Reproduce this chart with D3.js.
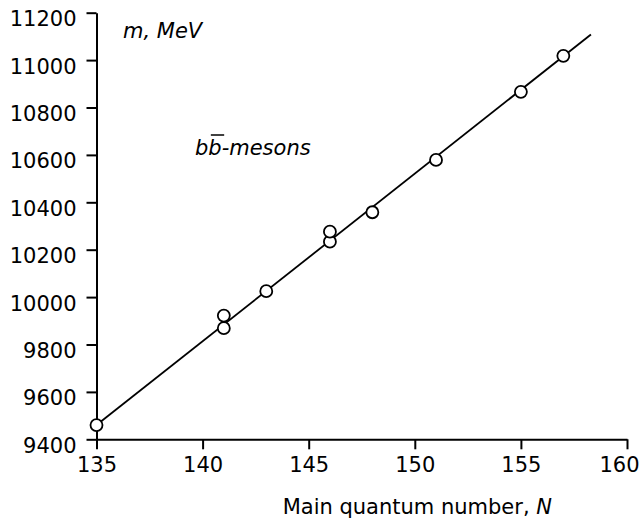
<!DOCTYPE html>
<html>
<head>
<meta charset="utf-8">
<script src="https://cdn.jsdelivr.net/npm/d3@7"></script>
<style>
  html, body { margin: 0; padding: 0; background: #fff; }
  svg { display: block; }
  text { font-family: "DejaVu Sans", Verdana, sans-serif; fill: #000; }
</style>
</head>
<body>
<div id="chart"></div>
<script>
// Data
const quantumN = [135, 141, 141, 143, 146, 146, 148, 151, 155, 157];
const massMeV  = [9460, 9869, 9922, 10025, 10234, 10276, 10358, 10579, 10866, 11018];
const fitLineN = [135, 158.3];
const fitLineM = [9460, 11108];
const xTicks = [135, 140, 145, 150, 155, 160];
const yTicks = [9400, 9600, 9800, 10000, 10200, 10400, 10600, 10800, 11000, 11200];

const W = 643, H = 519;
const FS = 21;
const svg = d3.select("#chart").append("svg").attr("width", W).attr("height", H);

const x = d3.scaleLinear().domain([135, 160]).range([96.5, 627]);
const y = d3.scaleLinear().domain([9400, 11200]).range([439.3, 12.7]);

// X axis
const gx = svg.append("g").attr("transform", `translate(0,${y(9400)})`)
  .call(d3.axisBottom(x).tickValues(xTicks).tickSize(10).tickSizeOuter(0).tickPadding(8).tickFormat(d3.format("d")));
// Y axis
const gy = svg.append("g").attr("transform", `translate(${x(135)},0)`)
  .call(d3.axisLeft(y).tickValues(yTicks).tickSize(10).tickSizeOuter(0).tickPadding(10).tickFormat(d3.format("d")));

[gx, gy].forEach(g => {
  g.selectAll("path.domain").attr("stroke", "#000").attr("stroke-width", 2);
  g.selectAll(".tick line").attr("stroke", "#000").attr("stroke-width", 2);
  g.selectAll(".tick text").attr("font-size", FS).attr("font-family", '"DejaVu Sans", Verdana, sans-serif').attr("fill", "#000");
});
gy.selectAll(".tick text").attr("dy", "0.62em");
// keep the last x tick label inside the picture
gx.selectAll(".tick text").filter(d => d === 160).attr("text-anchor", "end").attr("dx", 12);

// Fit line
svg.append("line")
  .attr("x1", x(fitLineN[0])).attr("y1", y(fitLineM[0]))
  .attr("x2", x(fitLineN[1])).attr("y2", y(fitLineM[1]))
  .attr("stroke", "#000").attr("stroke-width", 1.8);

// Points
svg.append("g").selectAll("circle")
  .data(quantumN.map((n, i) => ({n, m: massMeV[i]})))
  .join("circle")
  .attr("cx", d => x(d.n)).attr("cy", d => y(d.m)).attr("r", 6)
  .attr("fill", "#fff").attr("stroke", "#000").attr("stroke-width", 1.8);

// Y axis title
svg.append("text").attr("x", 123).attr("y", 38)
  .attr("font-size", FS).attr("font-style", "italic").text("m, MeV");

// X axis title
const xt = svg.append("text").attr("x", 552).attr("y", 514)
  .attr("font-size", FS).attr("text-anchor", "end");
xt.append("tspan").text("Main quantum number, ");
xt.append("tspan").attr("font-style", "italic").text("N");

// b b-bar mesons label
const lab = svg.append("text").attr("x", 195).attr("y", 155)
  .attr("font-size", FS).attr("font-style", "italic").text("bb-mesons");
const ext = lab.node().getExtentOfChar(1);
svg.append("line")
  .attr("x1", ext.x + 2.5).attr("x2", ext.x + ext.width + 2.5)
  .attr("y1", 135).attr("y2", 135)
  .attr("stroke", "#000").attr("stroke-width", 1.5);
</script>
</body>
</html>
